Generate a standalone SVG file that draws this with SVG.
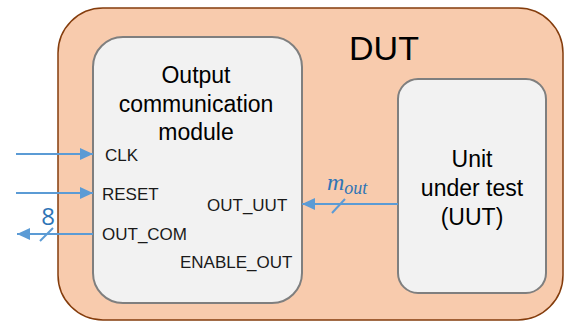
<svg xmlns="http://www.w3.org/2000/svg" width="566" height="321" viewBox="0 0 566 321">
  <defs>
    <marker id="arrow" markerUnits="userSpaceOnUse" markerWidth="14" markerHeight="12" refX="13" refY="6" orient="auto">
      <path d="M0,0 L13,6 L0,12 Z" fill="#5b9bd5"/>
    </marker>
    <style>
      .dut { fill: #f8cbad; stroke: #843c0c; stroke-width: 1.5; }
      .blk { fill: #f2f2f2; stroke: #7f7f7f; stroke-width: 2; }
      .title { font-family: "Liberation Sans", Arial, sans-serif; font-size: 34px; fill: #000; text-anchor: middle; }
      .name { font-family: "Liberation Sans", Arial, sans-serif; font-size: 23px; fill: #000; text-anchor: middle; }
      .port { font-family: "Liberation Sans", Arial, sans-serif; font-size: 17px; fill: #1a1a1a; }
      .wire { stroke: #5b9bd5; stroke-width: 2; fill: none; }
      .bus { stroke: #5b9bd5; stroke-width: 2; }
      .width { font-family: "Open Sans", "Liberation Sans", sans-serif; font-size: 24px; fill: #2e75b6; text-anchor: middle; }
      .sym { font-family: "Liberation Serif", "DejaVu Serif", serif; font-style: italic; font-size: 24px; fill: #2e75b6; }
    </style>
  </defs>

  <g id="dut">
    <rect class="dut" x="58" y="8" width="505" height="312" rx="45" ry="45"/>
    <text class="title" x="384" y="60">DUT</text>
  </g>

  <g id="output-communication-module">
    <rect class="blk" x="93" y="37" width="209" height="266" rx="30" ry="30"/>
    <text class="name" x="196" y="83">Output</text>
    <text class="name" x="196" y="112">communication</text>
    <text class="name" x="196" y="140">module</text>
    <text class="port" x="105" y="161">CLK</text>
    <text class="port" x="102" y="200">RESET</text>
    <text class="port" x="102" y="240">OUT_COM</text>
    <text class="port" x="207" y="211">OUT_UUT</text>
    <text class="port" x="180" y="268">ENABLE_OUT</text>
  </g>

  <g id="uut">
    <rect class="blk" x="398" y="79" width="148" height="214" rx="20" ry="20"/>
    <text class="name" x="472" y="167">Unit</text>
    <text class="name" x="472" y="196">under test</text>
    <text class="name" x="472" y="225">(UUT)</text>
  </g>

  <g id="connectors">
    <line class="wire" x1="16" y1="154" x2="93" y2="154" marker-end="url(#arrow)"/>
    <line class="wire" x1="16" y1="193" x2="93" y2="193" marker-end="url(#arrow)"/>
    <line class="wire" x1="93" y1="234" x2="17" y2="234" marker-end="url(#arrow)"/>
    <line class="bus" x1="40" y1="241" x2="53" y2="228"/>
    <text class="width" x="48" y="225">8</text>
    <line class="wire" x1="398" y1="204" x2="302" y2="204" marker-end="url(#arrow)"/>
    <line class="bus" x1="332" y1="213" x2="345" y2="199"/>
    <text class="sym" x="327" y="190">m<tspan font-size="18" dy="4">out</tspan></text>
  </g>
</svg>
